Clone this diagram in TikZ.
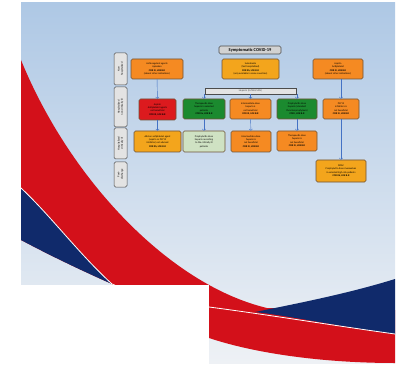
\documentclass[tikz,border=0pt]{standalone}
\usepackage{fontspec}
\setmainfont{Carlito}
\definecolor{bgtop}{HTML}{AEC8E5}
\definecolor{bgmid}{HTML}{D3DFEC}
\definecolor{bgbot}{HTML}{EEF1F5}
\definecolor{swred}{HTML}{D3101A}
\definecolor{swnavy}{HTML}{102A6B}
\definecolor{boxline}{HTML}{6E5236}
\definecolor{orgfill}{HTML}{F58A22}
\definecolor{ambfill}{HTML}{F3A51C}
\definecolor{redfill}{HTML}{DC1A1E}
\definecolor{grnfill}{HTML}{1B8A2F}
\definecolor{ltgfill}{HTML}{CFE2C3}
\definecolor{arrblue}{HTML}{4472C4}
\begin{document}
\begin{tikzpicture}[x=1pt,y=-1pt,
  box/.style={rectangle,rounded corners=1.5pt,draw=boxline,line width=0.6pt,
    align=center,inner sep=0.4pt,font=\fontsize{2.5}{3.4}\selectfont},
  lbl/.style={rectangle,rounded corners=1.5pt,draw=gray!60!black,fill=gray!22,
    line width=0.5pt,rotate=90,align=center,inner sep=0.3pt,
    minimum height=13,font=\fontsize{2.7}{3.3}\selectfont},
  arr/.style={->,arrblue,line width=0.45pt}]

\useasboundingbox (0,0) rectangle (401,366);

%BACKGROUND
\shade[top color=bgtop,middle color=bgmid,bottom color=bgbot] (21,3) rectangle (395,363);
\fill[swred] (21,60) .. controls (70,180) and (170,285) .. (267,308) -- (395,310) -- (395,363)
  .. controls (330,363) and (260,355) .. (209,338) -- (112,290) -- (112,284)
  .. controls (85,272) and (55,258) .. (21,240) -- cycle;
\fill[swnavy] (21,188) .. controls (50,215) and (80,255) .. (112,284)
  .. controls (85,272) and (55,258) .. (21,240) -- cycle;
\fill[swnavy] (255,312) .. controls (300,303) and (350,293) .. (395,279) -- (395,334)
  .. controls (330,325) and (290,316) .. (255,312) -- cycle;
\draw[white,line width=0.8pt] (21,188) .. controls (50,215) and (80,255) .. (112,284)
  .. controls (150,300) and (180,303) .. (209,307) .. controls (270,315) and (330,325) .. (395,334);
\fill[white] (0,285) rectangle (209,366);
%BACKGROUND

\node[rectangle,rounded corners=1.5pt,draw=gray!60!black,fill=gray!35,line width=0.6pt,
  minimum width=62,minimum height=8,inner sep=0.3pt,font=\fontsize{4.4}{5}\selectfont\bfseries](t) at (250,50) {Symptomatic COVID-19};

\node[lbl,minimum width=32](l1) at (120.5,69) {Non-\\hospitalized};
\node[lbl,minimum width=40](l2) at (120.5,107) {Hospitalized\\non critically ill};
\node[lbl,minimum width=31](l3) at (120.5,143.5) {Hospitalized\\critically ill};
\node[lbl,minimum width=25](l4) at (120.5,174.5) {Post-\\discharge};

\node[box,fill=orgfill,minimum width=52,minimum height=20](v1) at (157,69) {Anticoagulant agents\\Apixaban\\\textbf{COR III, LOE B-R}\\(absent other indications)};
\node[box,fill=ambfill,minimum width=57,minimum height=20](v2) at (250.5,69) {Sulodexide\\(Not hospitalized)\\\textbf{COR IIb, LOE B-R}\\(only available in some countries)};
\node[box,fill=orgfill,minimum width=50,minimum height=20](v3) at (338,69) {Aspirin\\Antiplatelet\\\textbf{COR III, LOE B-R}\\(absent other indications)};

\node[rectangle,draw=gray!60!black,fill=gray!22,line width=0.5pt,minimum width=91,minimum height=6,
  inner sep=0pt,text=gray!60!black,font=\fontsize{2.6}{3}\selectfont](b) at (250.5,91) {Heparin (LMWH/UFH)};

\node[box,fill=redfill,minimum width=37,minimum height=21](v4) at (157.5,109.5) {Aspirin\\Antiplatelet agents\\not beneficial\\\textbf{COR III, LOE B-R}};
\node[box,fill=grnfill,minimum width=42,minimum height=20](v5) at (204,109) {Therapeutic-dose\\heparin in selected\\patients\\\textbf{COR IIa, LOE B-R}};
\node[box,fill=orgfill,minimum width=41,minimum height=20](v6) at (250.5,109) {Intermediate-dose\\heparin is\\not beneficial\\\textbf{COR III, LOE B-R}};
\node[box,fill=grnfill,minimum width=40,minimum height=20](v7) at (297,109) {Prophylactic-dose\\heparin (standard\\thromboprophylaxis)\\\textbf{COR I, LOE B-R}};
\node[box,fill=orgfill,minimum width=36,minimum height=20](v8) at (341,109) {P2Y12\\inhibitors is\\not beneficial\\\textbf{COR III, LOE B-R}};

\node[box,fill=ambfill,minimum width=47,minimum height=21](v9) at (157.5,141.5) {Add-on antiplatelet agent\\(aspirin or P2Y12\\inhibitor) not advised\\\textbf{COR IIb, LOE B-R}};
\node[box,fill=ltgfill,minimum width=42,minimum height=21](v10) at (204,141.5) {Prophylactic-dose\\heparin according\\to the critically ill\\patients};
\node[box,fill=orgfill,minimum width=40,minimum height=21](v11) at (251,141.5) {Intermediate-dose\\heparin is\\not beneficial\\\textbf{COR III, LOE B-R}};
\node[box,fill=orgfill,minimum width=40,minimum height=20](v12) at (297,141) {Therapeutic-dose\\heparin is\\not beneficial\\\textbf{COR III, LOE B-R}};

\node[box,fill=ambfill,minimum width=50,minimum height=22](v13) at (341,171) {DOAC\\Prophylactic-dose rivaroxaban\\in selected high-risk patients\\\textbf{COR IIb, LOE B-R}};

\draw[arr] (v1) -- (v4);
\draw[arr] (v4) -- (v9);
\draw[arr] (b.south -| v5) -- (v5);
\draw[arr] (b.south -| v6) -- (v6);
\draw[arr] (b.south -| v7) -- (v7);
\draw[arr] (v5) -- (v10);
\draw[arr] (v6) -- (v11);
\draw[arr] (v7) -- (v12);
\draw[arr] (v3.south -| v8) -- (v8);
\draw[arr] (v8) -- (v13);

\end{tikzpicture}
\end{document}
